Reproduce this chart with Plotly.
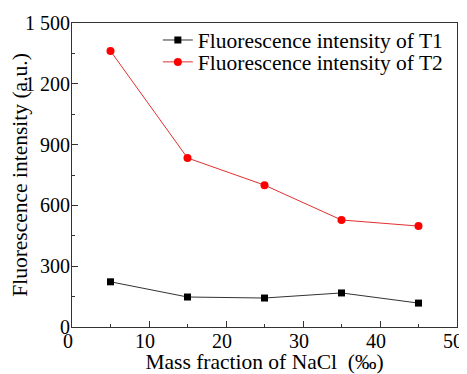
import plotly.graph_objects as go

x_vals = [5, 15, 25, 35, 45]
t1_vals = [223, 148, 143, 168, 118]
t2_vals = [1362, 834, 700, 528, 498]
t1_name = "Fluorescence intensity of T1"
t2_name = "Fluorescence intensity of T2"

font_family = "Liberation Serif"
fs_tick = 20
fs_title = 21.5

fig = go.Figure()
fig.add_trace(go.Scatter(
    x=x_vals, y=t1_vals, name=t1_name, mode="lines+markers",
    line=dict(color="#333333", width=1),
    marker=dict(symbol="square", size=7, color="black"),
    legend="legend",
))
fig.add_trace(go.Scatter(
    x=x_vals, y=t2_vals, name=t2_name, mode="lines+markers",
    line=dict(color="#e03030", width=1),
    marker=dict(symbol="circle", size=8, color="#ff0000"),
    legend="legend2",
))

axis_common = dict(
    showline=True, linecolor="#333333", linewidth=1, mirror=True,
    ticks="inside", ticklen=6, tickcolor="#333333", tickwidth=1,
    showgrid=False, zeroline=False, automargin=False,
    tickfont=dict(family=font_family, size=fs_tick, color="black"),
)

fig.update_xaxes(
    range=[0, 50], dtick=10, tick0=0, ticklabelstandoff=-4, ticklabelshift=-4,
    minor=dict(dtick=5, tick0=0, ticklen=3, ticks="inside", tickcolor="#333333"),
    title=dict(text="Mass fraction of NaCl  (‰)", font=dict(family=font_family, size=fs_title, color="black"), standoff=0),
    **axis_common,
)
fig.update_yaxes(
    range=[0, 1500], dtick=300, tick0=0, separatethousands=True, ticklabelstandoff=-3,
    minor=dict(dtick=150, tick0=0, ticklen=3, ticks="inside", tickcolor="#333333"),
    title=dict(text="Fluorescence intensity (a.u.)", font=dict(family=font_family, size=fs_title, color="black"), standoff=0),
    **axis_common,
)

legend_common = dict(
    xanchor="left", yanchor="middle",
    bgcolor="rgba(0,0,0,0)", borderwidth=0,
    font=dict(family=font_family, size=fs_title, color="black"),
    itemwidth=30,
)

# Figure is offset by the page's default 8px body margin, so size is reduced accordingly.
fig.update_layout(
    width=459, height=366,
    margin=dict(l=64, r=10, t=15, b=47),
    paper_bgcolor="white", plot_bgcolor="white",
    separators=". ",
    showlegend=True,
    legend=dict(x=0.223, y=0.944, **legend_common),
    legend2=dict(x=0.223, y=0.872, **legend_common),
    font=dict(family=font_family, size=fs_tick, color="black"),
)

fig.write_html("out.html")
